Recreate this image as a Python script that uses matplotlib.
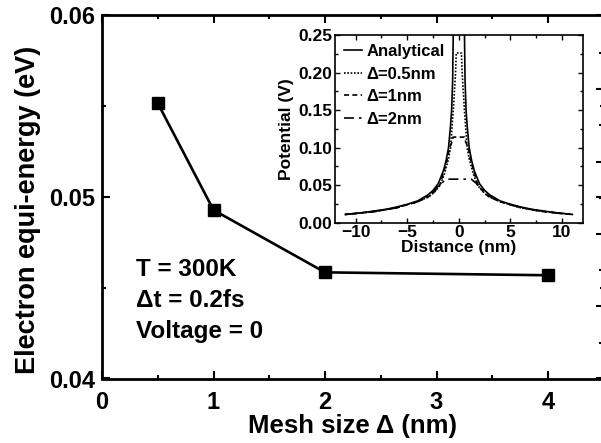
import matplotlib
matplotlib.use("Agg")
import matplotlib.pyplot as plt
from matplotlib.ticker import MultipleLocator, FixedLocator, NullFormatter

plt.rcParams['font.family'] = ['Liberation Sans', 'DejaVu Sans']
plt.rcParams['font.weight'] = 'bold'

# main panel: equi-energy vs mesh size
mesh = [0.5, 1, 2, 4]
energy = [0.05515, 0.04927, 0.04584, 0.04568]

# inset: potential profiles (right half, mirrored)
x_ana = [0.45, 0.55, 0.6, 0.7, 0.8, 1.0, 1.25, 1.5, 2.0, 2.5, 3, 4, 5, 6, 7, 8, 9, 10, 11]
v_ana = [0.32, 0.245, 0.19, 0.15, 0.13, 0.10, 0.082, 0.069, 0.052, 0.043, 0.037, 0.029,
         0.0245, 0.021, 0.018, 0.016, 0.014, 0.0125, 0.011]
x_05 = [0, 0.25, 0.32, 0.54, 0.8, 1.0, 1.4, 1.8, 2.5, 3, 4, 5, 6, 8, 10, 11]
v_05 = [0.226, 0.226, 0.2, 0.15, 0.1, 0.085, 0.065, 0.05, 0.039, 0.034, 0.028, 0.024,
        0.02, 0.0152, 0.0122, 0.011]
x_1 = [0, 0.55, 0.65, 0.9, 1.2, 1.5, 1.85, 2.5, 3, 4, 5, 6, 8, 10, 11]
v_1 = [0.114, 0.114, 0.108, 0.1, 0.08, 0.066, 0.05, 0.039, 0.034, 0.028, 0.024, 0.02,
       0.0152, 0.0122, 0.011]
x_2 = [0, 1.2, 1.9, 2.6, 3, 4, 5, 6, 8, 10, 11]
v_2 = [0.058, 0.058, 0.05, 0.04, 0.035, 0.028, 0.024, 0.02, 0.0152, 0.0122, 0.011]

labels = ['Analytical', 'Δ=0.5nm', 'Δ=1nm', 'Δ=2nm']


def mirror(xs, vs):
    xx = [-v for v in xs[::-1]] + list(xs)
    yy = list(vs[::-1]) + list(vs)
    return xx, yy


fig = plt.figure(figsize=(6.01, 4.43), dpi=100)
ax = fig.add_axes([102/601, 1 - 378.5/443, (603.75 - 102)/601, (378.5 - 15)/443])

ax.plot(mesh, energy, color='black', lw=1.9, marker='s', ms=8.4, mfc='black', mec='black')
ax.set_xlim(0, 4.5)
ax.set_ylim(0.04, 0.06)
ax.xaxis.set_major_locator(MultipleLocator(1))
ax.xaxis.set_minor_locator(MultipleLocator(0.5))
ax.yaxis.set_major_locator(MultipleLocator(0.01))
ax.yaxis.set_minor_locator(MultipleLocator(0.005))
ax.yaxis.set_major_formatter(matplotlib.ticker.FormatStrFormatter('%.2f'))
ax.tick_params(which='both', direction='in', top=True, right=True, width=1.5, labelsize=17)
ax.tick_params(which='major', length=5.5, pad=5)
ax.tick_params(which='minor', length=3)
ax.tick_params(axis='x', which='major', pad=9)
for s in ax.spines.values():
    s.set_linewidth(2)
ax.set_xlabel('Mesh size Δ (nm)', fontsize=18.5, fontweight='bold', labelpad=0)
ax.set_ylabel('Electron equi-energy (eV)', fontsize=19.5, fontweight='bold', labelpad=6)
ax.yaxis.label.set_y(0.465)

ax.text(0.305, 0.04562, 'T = 300K', fontsize=17.5, fontweight='bold', va='baseline')
ax.text(0.305, 0.04393, 'Δt = 0.2fs', fontsize=17.5, fontweight='bold', va='baseline')
ax.text(0.305, 0.04224, 'Voltage = 0', fontsize=17.5, fontweight='bold', va='baseline')

# inset
ins = fig.add_axes([335/601, 1 - 222.7/443, (582.7 - 335)/601, (222.7 - 35)/443])
xx, yy = mirror(x_ana, v_ana)
ins.plot(xx, yy, color='black', lw=1.2, ls='-', label=labels[0])
xx, yy = mirror(x_05, v_05)
ins.plot(xx, yy, color='black', lw=1.2, ls=(0, (1, 1)), label=labels[1])
xx, yy = mirror(x_1, v_1)
ins.plot(xx, yy, color='black', lw=1.2, ls=(0, (3, 2)), label=labels[2])
xx, yy = mirror(x_2, v_2)
ins.plot(xx, yy, color='black', lw=1.2, ls=(0, (6, 3, 1.5, 3)), label=labels[3])
ins.set_xlim(-12, 12)
ins.set_ylim(0, 0.25)
ins.xaxis.set_major_locator(MultipleLocator(5))
ins.xaxis.set_minor_locator(MultipleLocator(2.5))
ins.yaxis.set_major_locator(MultipleLocator(0.05))
ins.yaxis.set_minor_locator(MultipleLocator(0.025))
ins.yaxis.set_major_formatter(matplotlib.ticker.FormatStrFormatter('%.2f'))
ins.tick_params(which='both', direction='in', top=True, right=True, width=1, labelsize=12.5, pad=2)
ins.tick_params(which='major', length=3.5)
ins.tick_params(which='minor', length=2)
for s in ins.spines.values():
    s.set_linewidth(1.2)
ins.set_xlabel('Distance (nm)', fontsize=12.5, fontweight='bold', labelpad=0)
ins.set_ylabel('Potential (V)', fontsize=12.5, fontweight='bold', labelpad=3)
ins.legend(loc='upper left', frameon=False, fontsize=12, handlelength=1.05,
           handletextpad=0.3, borderaxespad=0.1, labelspacing=0.45, borderpad=0.45)

# neighbouring panel's tick marks cut at the right edge
nb = fig.add_axes([602/601, 1 - 378.8/443, 0.02, (378.8 - 16.8)/443])
nb.set_ylim(0, 5)
nb.yaxis.set_major_locator(FixedLocator([1, 2, 3, 4]))
nb.yaxis.set_minor_locator(FixedLocator([0.5, 1.5, 2.5, 3.5, 4.5]))
nb.yaxis.set_major_formatter(NullFormatter())
nb.set_xticks([])
for s in nb.spines.values():
    s.set_visible(False)
nb.patch.set_visible(False)
nb.tick_params(which='major', direction='out', length=4.5, width=1.5)
nb.tick_params(which='minor', direction='out', length=2, width=1.5)

fig.savefig('out.png', dpi=100)
